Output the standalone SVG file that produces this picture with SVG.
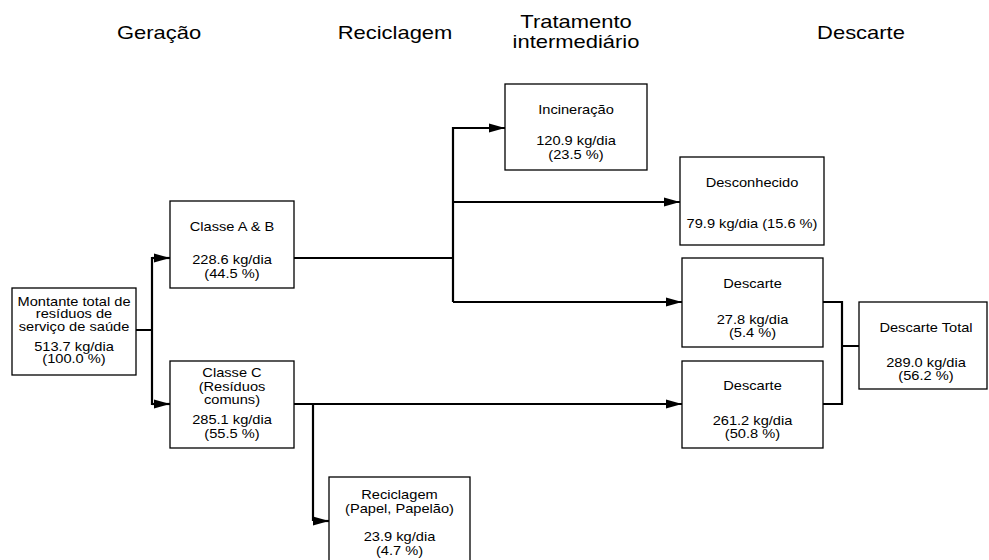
<svg xmlns="http://www.w3.org/2000/svg" width="989" height="560" viewBox="0 0 989 560">
<style>
.box{fill:#fff;stroke:#000;stroke-width:1.3}
.t{font-family:"Liberation Sans",Arial,sans-serif;font-size:12px;text-anchor:middle;fill:#000}
.h{font-family:"Liberation Sans",Arial,sans-serif;font-size:18px;text-anchor:middle;fill:#000}
.c{fill:none;stroke:#000;stroke-width:2.2}
</style>
<defs>
<marker id="ah" markerUnits="userSpaceOnUse" markerWidth="16" markerHeight="10" refX="16" refY="5" orient="auto">
<path d="M0,0.5 L16,5 L0,9.5 z" fill="#000"/>
</marker>
</defs>
<rect width="989" height="560" fill="#fff"/>
<g id="headers">
<g transform="translate(159 0) scale(1.22 1)"><text class="h" y="39">Geração</text></g>
<g transform="translate(395 0) scale(1.22 1)"><text class="h" y="39">Reciclagem</text></g>
<g transform="translate(576 0) scale(1.22 1)"><text class="h" y="28">Tratamento</text><text class="h" y="48">intermediário</text></g>
<g transform="translate(861 0) scale(1.22 1)"><text class="h" y="39">Descarte</text></g>
</g>
<g id="connectors">
<path class="c" d="M136,330 H152 M152,257 V405"/>
<path class="c" d="M152,258 H170" marker-end="url(#ah)"/>
<path class="c" d="M152,404 H170" marker-end="url(#ah)"/>
<path class="c" d="M294,258 H453 M453,127 V302"/>
<path class="c" d="M453,128 H505" marker-end="url(#ah)"/>
<path class="c" d="M453,202 H680" marker-end="url(#ah)"/>
<path class="c" d="M453,302 H682" marker-end="url(#ah)"/>
<path class="c" d="M294,404 H682" marker-end="url(#ah)"/>
<path class="c" d="M313,404 V521"/>
<path class="c" d="M313,521 H329" marker-end="url(#ah)"/>
<path class="c" d="M823,302 H842 V404 H823 M842,346 H859"/>
</g>
<g id="montante">
<rect class="box" x="12" y="288" width="124" height="87"/>
<g transform="translate(74 0) scale(1.22 1)">
<text class="t" y="306">Montante total de</text>
<text class="t" y="318.5">resíduos de</text>
<text class="t" y="331">serviço de saúde</text>
<text class="t" y="351">513.7 kg/dia</text>
<text class="t" y="363.5">(100.0 %)</text>
</g>
</g>
<g id="classeAB">
<rect class="box" x="170" y="201" width="124" height="87"/>
<g transform="translate(232 0) scale(1.22 1)">
<text class="t" y="231">Classe A &amp; B</text>
<text class="t" y="264">228.6 kg/dia</text>
<text class="t" y="278">(44.5 %)</text>
</g>
</g>
<g id="classeC">
<rect class="box" x="170" y="361" width="124" height="87"/>
<g transform="translate(232 0) scale(1.22 1)">
<text class="t" y="377">Classe C</text>
<text class="t" y="391">(Resíduos</text>
<text class="t" y="404.5">comuns)</text>
<text class="t" y="424">285.1 kg/dia</text>
<text class="t" y="438">(55.5 %)</text>
</g>
</g>
<g id="reciclagem">
<rect class="box" x="329" y="477" width="141" height="88"/>
<g transform="translate(399.5 0) scale(1.22 1)">
<text class="t" y="499.5">Reciclagem</text>
<text class="t" y="513.5">(Papel, Papelão)</text>
<text class="t" y="541.5">23.9 kg/dia</text>
<text class="t" y="555">(4.7 %)</text>
</g>
</g>
<g id="incineracao">
<rect class="box" x="505" y="84" width="142" height="86"/>
<g transform="translate(576 0) scale(1.22 1)">
<text class="t" y="114.5">Incineração</text>
<text class="t" y="145">120.9 kg/dia</text>
<text class="t" y="159">(23.5 %)</text>
</g>
</g>
<g id="desconhecido">
<rect class="box" x="680" y="157" width="144" height="88"/>
<g transform="translate(752 0) scale(1.22 1)">
<text class="t" y="187.5">Desconhecido</text>
<text class="t" y="228.5">79.9 kg/dia (15.6 %)</text>
</g>
</g>
<g id="descarte1">
<rect class="box" x="682" y="258" width="141" height="89"/>
<g transform="translate(752.5 0) scale(1.22 1)">
<text class="t" y="288.5">Descarte</text>
<text class="t" y="324">27.8 kg/dia</text>
<text class="t" y="337.5">(5.4 %)</text>
</g>
</g>
<g id="descarte2">
<rect class="box" x="682" y="361" width="141" height="87"/>
<g transform="translate(752.5 0) scale(1.22 1)">
<text class="t" y="390">Descarte</text>
<text class="t" y="425">261.2 kg/dia</text>
<text class="t" y="438.5">(50.8 %)</text>
</g>
</g>
<g id="descarteTotal">
<rect class="box" x="859" y="302" width="128" height="87"/>
<g transform="translate(926 0) scale(1.22 1)">
<text class="t" y="332">Descarte Total</text>
<text class="t" y="367">289.0 kg/dia</text>
<text class="t" y="380.5">(56.2 %)</text>
</g>
</g>
</svg>
